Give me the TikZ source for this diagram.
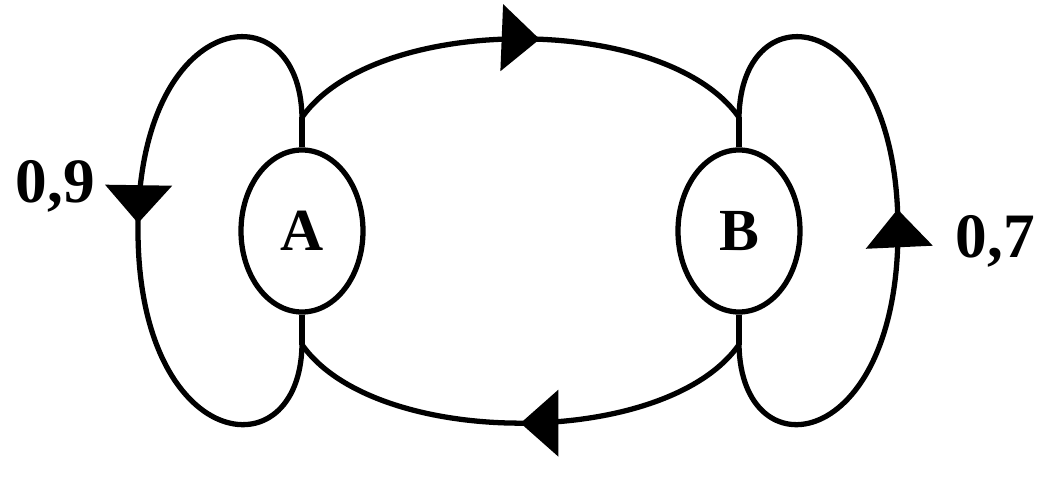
\documentclass[tikz,border=0pt]{standalone}
\usepackage{fontspec}
\setmainfont{Liberation Serif}
\usetikzlibrary{shapes.geometric,arrows.meta,decorations.markings}

\begin{document}
\begin{tikzpicture}[line width=1.5pt]
\tikzset{
  state/.style={draw, ellipse, inner sep=0pt, minimum width=1.22cm,
    minimum height=1.62cm, font=\fontsize{17}{20}\selectfont\bfseries},
  prob/.style={inner sep=0pt, anchor=base west,
    font=\fontsize{18}{20}\selectfont\bfseries},
  flow/.style={postaction={decorate, decoration={markings,
    mark=at position #1 with {\arrow{Triangle[length=3.8mm,width=6.6mm]}}}}}
}
\useasboundingbox (0,0) rectangle (10.41,4.82);

\node[state] (A) at (3.02,2.51) {A};
\node[state] (B) at (7.39,2.51) {B};

\coordinate (Aup) at ([yshift=0.3cm]A.north);
\coordinate (Adown) at ([yshift=-0.3cm]A.south);
\coordinate (Bup) at ([yshift=0.3cm]B.north);
\coordinate (Bdown) at ([yshift=-0.3cm]B.south);
\coordinate (Aleft) at (1.38,2.52);
\coordinate (Bright) at (8.98,2.52);

\draw (A.north) -- (Aup);
\draw (A.south) -- (Adown);
\draw (B.north) -- (Bup);
\draw (B.south) -- (Bdown);

% A <-> B
\draw[flow=0.54] (Aup) to[out=55,in=125,looseness=0.75] (Bup);
\draw[flow=0.5] (Bdown) to[out=-125,in=-55,looseness=0.75] (Adown);

% loops
\draw[flow=0.49] (Aup) .. controls +(-0.02,1.3) and +(0,2.23) .. (Aleft)
  .. controls +(0,-2.23) and +(-0.02,-1.3) .. (Adown);
\draw[flow=0.53] (Bdown) .. controls +(0.02,-1.3) and +(0,-2.23) .. (Bright)
  .. controls +(0,2.23) and +(0.02,1.3) .. (Bup);

\node[prob] (pAA) at (0.13,2.79) {0,9};
\node[prob] (pBB) at (9.53,2.24) {0,7};
\end{tikzpicture}
\end{document}
